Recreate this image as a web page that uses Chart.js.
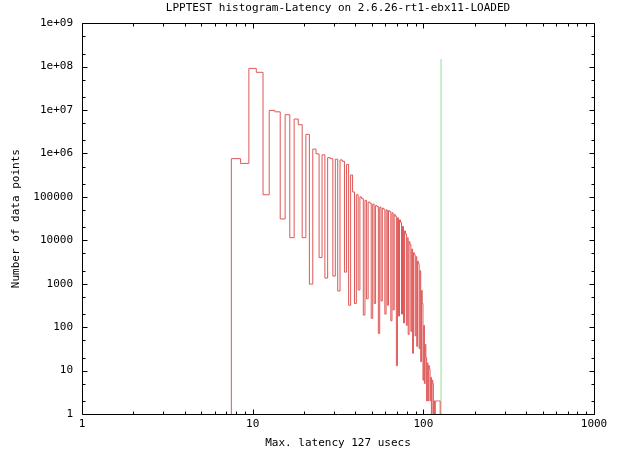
<!DOCTYPE html>
<html>
<head>
<meta charset="utf-8">
<script src="https://cdn.jsdelivr.net/npm/chart.js@4.4.1/dist/chart.umd.min.js"></script>
<style>
  html, body { margin: 0; padding: 0; background: #fff; }
  #wrap { width: 624px; height: 455px; }
</style>
</head>
<body>
<div id="wrap"><canvas id="histChart"></canvas></div>
<script>
// latency bins (usecs) and how many samples landed in each one
const latencyBins = [
    8,   9,  10,  11,  12,  13,  14,  15,  16,  17,
   18,  19,  20,  21,  22,  23,  24,  25,  26,  27,
   28,  29,  30,  31,  32,  33,  34,  35,  36,  37,
   38,  39,  40,  41,  42,  43,  44,  45,  46,  47,
   48,  49,  50,  51,  52,  53,  54,  55,  56,  57,
   58,  59,  60,  61,  62,  63,  64,  65,  66,  67,
   68,  69,  70,  71,  72,  73,  74,  75,  76,  77,
   78,  79,  80,  81,  82,  83,  84,  85,  86,  87,
   88,  89,  90,  91,  92,  93,  94,  95,  96,  97,
   98,  99, 100, 101, 102, 103, 104, 105, 106, 107,
  108, 109, 110, 111, 112, 113, 114, 115, 116, 117,
  118, 119, 120, 121, 122, 123, 124, 125, 126, 127
];
const binCounts = [
  760000, 590000, 91000000, 74000000, 112000, 9800000, 9100000, 31000, 7800000, 11500,
  6200000, 4600000, 11500, 2750000, 980, 1260000, 980000, 4000, 930000, 1350,
  800000, 760000, 1500, 740000, 680, 710000, 660000, 1850, 560000, 320,
  320000, 130000, 350, 112000, 720, 100000, 91000, 190, 83000, 450,
  76000, 72000, 160, 68000, 350, 63000, 60000, 72, 58000, 400,
  55000, 52000, 200, 50000, 320, 48000, 46000, 140, 43000, 250,
  39000, 36000, 13, 33000, 180, 29500, 26000, 200, 21000, 125,
  16500, 14000, 110, 11500, 68, 9300, 8000, 80, 6300, 25,
  5200, 4700, 63, 4200, 36, 3300, 2900, 32, 2000, 16,
  700, 350, 6, 110, 5, 40, 20, 2, 15, 2,
  13, 11, 2, 7, 1, 6, 5, 1, 2, 1,
  2, 2, 2, 2, 2, 2, 2, 2, 1, 1
];

// max latency marker
const markerX = [127, 127];
const markerY = [1, 150000000];

// axes
const xMajorTicks = [1, 10, 100, 1000];
const xTickLabels = ['1', '10', '100', '1000'];
const xMinorMantissa = [2, 3, 4, 5, 6, 7, 8, 9];
const yMajorTicks = [1, 10, 100, 1000, 10000, 100000, 1e6, 1e7, 1e8, 1e9];
const yTickLabels = ['1', '10', '100', '1000', '10000', '100000', '1e+06', '1e+07', '1e+08', '1e+09'];
const yMinorMantissa = [2, 5];

const titleText = 'LPPTEST histogram-Latency on 2.6.26-rt1-ebx11-LOADED';
const xTitle = 'Max. latency 127 usecs';
const yTitle = 'Number of data points';

// histeps: each bin is a flat step from bin-0.5 to bin+0.5
const stepPoints = [{ x: latencyBins[0] - 0.5, y: 1 }];
latencyBins.forEach((b, i) => stepPoints.push({ x: b - 0.5, y: binCounts[i] }));
stepPoints.push({ x: latencyBins[latencyBins.length - 1] + 0.5, y: 1 });

const markerPoints = markerX.map((x, i) => ({ x: x, y: markerY[i] }));

function minorsOf(majors, mantissa) {
    const out = [];
    majors.slice(0, -1).forEach(m => mantissa.forEach(k => out.push(m * k)));
    return out;
}
const xMinorTicks = minorsOf(xMajorTicks, xMinorMantissa);
const yMinorTicks = minorsOf(yMajorTicks, yMinorMantissa);

// gnuplot-like frame with inward ticks on all four sides
const frameTicks = {
    id: 'frameTicks',
    afterDraw(chart) {
        const { ctx, chartArea: a, scales: { x, y } } = chart;
        const L = Math.round(a.left) + 0.5, R = Math.round(a.right) + 0.5;
        const T = Math.round(a.top) + 0.5, B = Math.round(a.bottom) + 0.5;
        ctx.save();
        ctx.strokeStyle = '#000';
        ctx.lineWidth = 1;
        ctx.beginPath();
        ctx.rect(L, T, R - L, B - T);
        const xt = (v, len) => {
            const px = Math.round(x.getPixelForValue(v)) + 0.5;
            ctx.moveTo(px, B); ctx.lineTo(px, B - len);
            ctx.moveTo(px, T); ctx.lineTo(px, T + len);
        };
        const yt = (v, len) => {
            const py = Math.round(y.getPixelForValue(v)) + 0.5;
            ctx.moveTo(L, py); ctx.lineTo(L + len, py);
            ctx.moveTo(R, py); ctx.lineTo(R - len, py);
        };
        xMajorTicks.forEach(v => xt(v, 5));
        xMinorTicks.forEach(v => xt(v, 3));
        yMajorTicks.forEach(v => yt(v, 5));
        yMinorTicks.forEach(v => yt(v, 3));
        ctx.stroke();
        ctx.restore();
    }
};

Chart.defaults.font.family = "'DejaVu Sans Mono', monospace";
Chart.defaults.font.size = 11;
Chart.defaults.color = '#000';

const ctx = document.getElementById('histChart').getContext('2d');
const histChart = new Chart(ctx, {
    type: 'line',
    data: {
        datasets: [{
            data: stepPoints,
            borderColor: 'rgb(222, 88, 88)',
            borderWidth: 1,
            pointRadius: 0,
            stepped: true,
            fill: false
        }, {
            data: markerPoints,
            borderColor: '#8fe08f',
            borderWidth: 1,
            pointRadius: 0,
            fill: false
        }]
    },
    options: {
        responsive: true,
        maintainAspectRatio: false,
        animation: false,
        layout: { padding: { left: 0, right: 30, top: 0, bottom: 0 } },
        plugins: {
            legend: { display: false },
            tooltip: { enabled: false },
            title: {
                display: true,
                text: titleText,
                fullSize: false,
                font: { size: 11, weight: 'normal', lineHeight: 1.2 },
                padding: { top: 2, bottom: 8 }
            }
        },
        scales: {
            x: {
                type: 'logarithmic',
                min: 1,
                max: 1000,
                grid: { display: false, drawTicks: false },
                border: { display: false },
                afterBuildTicks: s => { s.ticks = xMajorTicks.map(v => ({ value: v })); },
                afterFit: s => { s.height = 41; },
                ticks: {
                    autoSkip: false,
                    maxRotation: 0,
                    padding: 4,
                    callback: (v, i) => xTickLabels[i]
                },
                title: {
                    display: true,
                    text: xTitle,
                    font: { size: 11, lineHeight: 1.2 },
                    padding: { top: 0, bottom: 5 }
                }
            },
            y: {
                type: 'logarithmic',
                min: 1,
                max: 1e9,
                grid: { display: false, drawTicks: false },
                border: { display: false },
                afterBuildTicks: s => { s.ticks = yMajorTicks.map(v => ({ value: v })); },
                afterFit: s => { s.width = 82; },
                ticks: {
                    autoSkip: false,
                    padding: 9,
                    callback: (v, i) => yTickLabels[i]
                },
                title: {
                    display: true,
                    text: yTitle,
                    font: { size: 11, lineHeight: 1.2 },
                    padding: { top: 10, bottom: 0 }
                }
            }
        }
    },
    plugins: [frameTicks]
});
</script>
</body>
</html>
